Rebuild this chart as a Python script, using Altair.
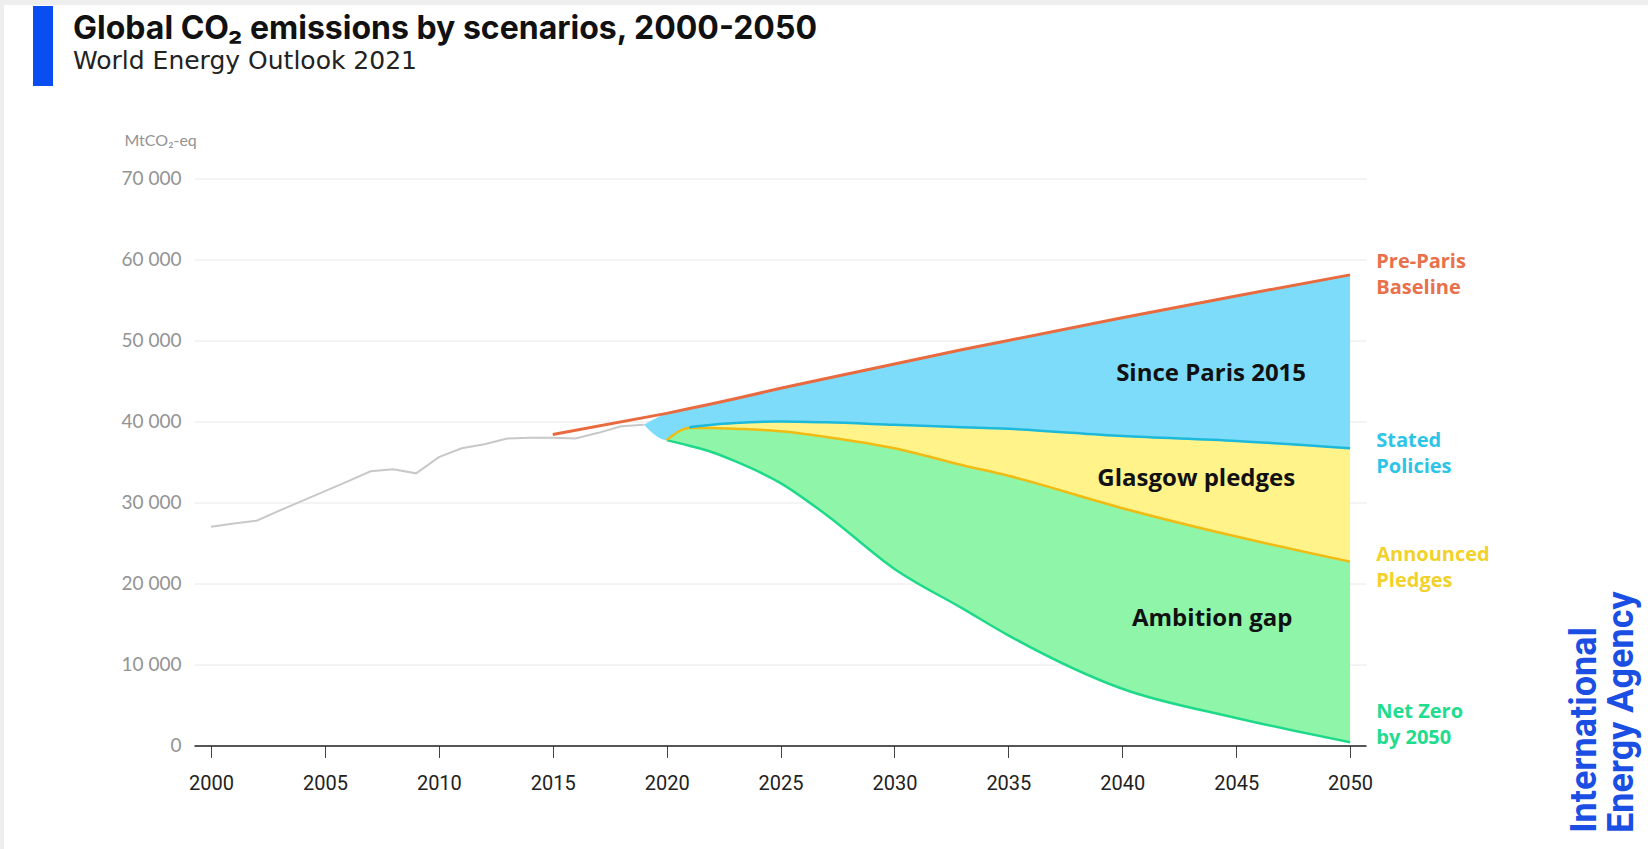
import altair as alt
import pandas as pd

# ---------------- data (MtCO2-eq) ----------------
hist_years = list(range(2000, 2020))
hist_values = [27000, 27400, 27750, 29000, 30200, 31400, 32600, 33850, 34100, 33600,
               35600, 36700, 37200, 37900, 38000, 38000, 37900, 38600, 39400, 39600]

proj_years = [2020, 2021, 2022, 2023, 2025, 2027, 2030, 2033, 2035, 2040, 2045, 2050]
pre_paris = [41000, 41600, 42200, 42800, 44100, 45300, 47100, 48900, 50000, 52800, 55500, 58100]
stated_policies = [37700, 39300, 39600, 39800, 40000, 39900, 39600, 39300, 39100, 38200, 37600, 36700]
announced_pledges = [37700, 39200, 39200, 39100, 38800, 38100, 36700, 34600, 33300, 29300, 25800, 22700]
net_zero = [37700, 37000, 36200, 35100, 32400, 28500, 21800, 16900, 13600, 7000, 3400, 400]

baseline_start_year = 2015
baseline_start_value = 38400

# scenario names at the right edge; the value is where the first line of each name sits
scenario_names = ["Pre-Paris\nBaseline", "Stated\nPolicies", "Announced\nPledges", "Net Zero\nby 2050"]
scenario_colors = ["#E8704A", "#2CC5E8", "#F2D12B", "#22DC8E"]
scenario_label_values = [59700, 37600, 23550, 4100]
scenario_label_year = 2051.15

gap_names = ["Since Paris 2015", "Glasgow pledges", "Ambition gap"]
gap_label_years = [2043.9, 2043.25, 2043.95]
gap_label_values = [45900, 32900, 15600]

x_ticks = list(range(2000, 2051, 5))
y_ticks = list(range(0, 70001, 10000))

# ---------------- tables ----------------
hist_df = pd.DataFrame({"year": hist_years, "value": hist_values})
baseline_df = pd.DataFrame({"year": [baseline_start_year] + proj_years,
                            "value": [baseline_start_value] + pre_paris})
since_paris_df = pd.DataFrame({"year": [hist_years[-1]] + proj_years,
                               "top": [hist_values[-1]] + pre_paris,
                               "bottom": [hist_values[-1]] + stated_policies})
glasgow_df = pd.DataFrame({"year": proj_years, "top": stated_policies, "bottom": announced_pledges})
ambition_df = pd.DataFrame({"year": proj_years, "top": announced_pledges, "bottom": net_zero})
stated_df = pd.DataFrame({"year": proj_years[1:], "value": stated_policies[1:]})
announced_df = pd.DataFrame({"year": proj_years, "value": announced_pledges})
netzero_df = pd.DataFrame({"year": proj_years, "value": net_zero})
end_labels_df = pd.DataFrame({"name": scenario_names,
                              "year": [scenario_label_year] * len(scenario_names),
                              "value": scenario_label_values})
gap_labels_df = pd.DataFrame({"name": gap_names, "year": gap_label_years, "value": gap_label_values})
one_row = pd.DataFrame({"k": [0]})

# ---------------- scales / axes ----------------
xs = alt.Scale(domain=[1999.25, 2050.7], nice=False, zero=False)
ys = alt.Scale(domain=[0, 70000], nice=False, zero=True)

x_axis = alt.Axis(values=x_ticks, format="d", grid=False, title=None,
                  domainColor="#222222", domainWidth=1.5,
                  tickColor="#444444", tickSize=12, tickWidth=1,
                  labelFont="Roboto", labelFontSize=20, labelColor="#222222",
                  labelPadding=16, labelFlush=False)
y_axis = alt.Axis(values=y_ticks, labelExpr="replace(format(datum.value, ','), ',', ' ')",
                  grid=True, gridColor="#E8E8E8", gridWidth=1,
                  domain=False, ticks=False,
                  labelFont="Lato", labelFontSize=19, labelColor="#939393", labelPadding=13,
                  title="MtCO₂-eq", titleAngle=0, titleX=-70, titleY=-38,
                  titleAlign="left", titleBaseline="middle",
                  titleFont="Lato", titleFontSize=16, titleFontWeight="normal",
                  titleColor="#939393")


def X():
    return alt.X("year:Q", scale=xs, axis=x_axis)


def Y(field="value"):
    return alt.Y(f"{field}:Q", scale=ys, axis=y_axis)


# ---------------- bands ----------------
since_paris = alt.Chart(since_paris_df).mark_area(color="#7EDCFB", interpolate="monotone").encode(
    x=X(), y=Y("top"), y2="bottom:Q")
glasgow = alt.Chart(glasgow_df).mark_area(color="#FFF38A", interpolate="monotone").encode(
    x=X(), y=Y("top"), y2="bottom:Q")
ambition = alt.Chart(ambition_df).mark_area(color="#8FF5A9", interpolate="monotone").encode(
    x=X(), y=Y("top"), y2="bottom:Q")

# ---------------- lines ----------------
hist_line = alt.Chart(hist_df).mark_line(color="#C8C8C8", strokeWidth=2).encode(x=X(), y=Y())
netzero_line = alt.Chart(netzero_df).mark_line(color="#1FD98A", strokeWidth=2.5,
                                               interpolate="monotone").encode(x=X(), y=Y())
announced_line = alt.Chart(announced_df).mark_line(color="#F0BB12", strokeWidth=2.5,
                                                   interpolate="monotone").encode(x=X(), y=Y())
stated_line = alt.Chart(stated_df).mark_line(color="#1CB9DB", strokeWidth=2.5,
                                             interpolate="monotone").encode(x=X(), y=Y())
baseline_line = alt.Chart(baseline_df).mark_line(color="#E86A3E", strokeWidth=3).encode(x=X(), y=Y())

# ---------------- labels ----------------
gap_labels = alt.Chart(gap_labels_df).mark_text(
    font="Open Sans", fontWeight="bold", fontSize=24, color="#111111",
    align="center", baseline="middle").encode(x=X(), y=Y(), text="name:N")

end_labels = alt.Chart(end_labels_df).mark_text(
    font="Open Sans", fontWeight="bold", fontSize=20, align="left", baseline="middle",
    lineBreak="\n", lineHeight=26).encode(
    x=X(), y=Y(), text="name:N",
    color=alt.Color("name:N", scale=alt.Scale(domain=scenario_names, range=scenario_colors),
                    legend=None))

# ---------------- header and frame ----------------
frame_top = alt.Chart(one_row).mark_rect(color="#EEEEEE").encode(
    x=alt.value(-194), x2=alt.value(1454), y=alt.value(-178.5), y2=alt.value(-173.5))
frame_left = alt.Chart(one_row).mark_rect(color="#EEEEEE").encode(
    x=alt.value(-194), x2=alt.value(-190), y=alt.value(-178.5), y2=alt.value(670.5))
accent_bar = alt.Chart(one_row).mark_rect(color="#0A4DF0").encode(
    x=alt.value(-161), x2=alt.value(-141), y=alt.value(-172.5), y2=alt.value(-92.5))
headline = alt.Chart(one_row).mark_text(
    text="Global CO₂ emissions by scenarios, 2000-2050", font="Inter", fontWeight="bold",
    fontSize=32, color="#111111", align="left", baseline="alphabetic").encode(
    x=alt.value(-121), y=alt.value(-140))
subhead = alt.Chart(one_row).mark_text(
    text="World Energy Outlook 2021", font="DejaVu Sans", fontSize=25, color="#222222",
    align="left", baseline="alphabetic").encode(x=alt.value(-121), y=alt.value(-109.5))

# ---------------- agency mark ----------------
agency_1 = alt.Chart(one_row).mark_text(
    text="International", font="Roboto", fontWeight="bold", fontSize=36, color="#1B4FE3",
    angle=270, align="left", baseline="alphabetic").encode(x=alt.value(1402), y=alt.value(654.5))
agency_2 = alt.Chart(one_row).mark_text(
    text="Energy Agency", font="Roboto", fontWeight="bold", fontSize=36, color="#1B4FE3",
    angle=270, align="left", baseline="alphabetic").encode(x=alt.value(1439), y=alt.value(654.5))

chart = alt.layer(
    since_paris, glasgow, ambition,
    hist_line, netzero_line, announced_line, stated_line, baseline_line,
    gap_labels, end_labels,
    frame_top, frame_left, accent_bar, headline, subhead, agency_1, agency_2,
).properties(
    width=1172, height=567,
    padding={"left": 194, "top": 178.5, "right": 282, "bottom": 103.5},
    autosize=alt.AutoSizeParams(type="none"),
    background="white",
).configure_view(stroke=None)

chart.save("out.html", embed_options={"renderer": "svg", "actions": False})
